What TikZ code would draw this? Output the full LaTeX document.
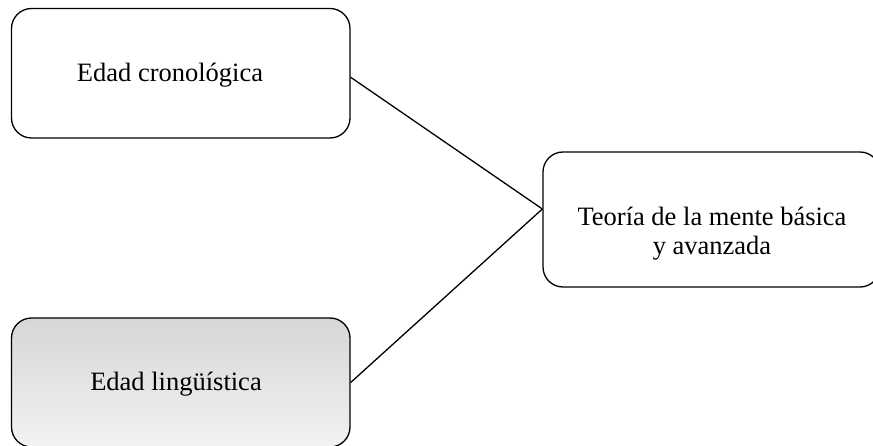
\documentclass[tikz,border=0pt]{standalone}
\usepackage{fontspec}
\setmainfont{Liberation Serif}
\begin{document}
\begin{tikzpicture}[x=1pt,y=-1pt,
  box/.style={draw=black, line width=1.3pt, rounded corners=20pt, rectangle, inner sep=0pt},
  lbl/.style={font=\fontsize{26.5}{29.5}\selectfont, anchor=base, inner sep=0pt, align=center},
  link/.style={draw=black, line width=1.3pt}]
\useasboundingbox (0,0) rectangle (873,446);
\clip (0,0) rectangle (873,446);
\node[box, minimum width=338.5pt, minimum height=129.5pt] (a) at (180.75,73.25) {};
\node[box, minimum width=338.5pt, minimum height=129pt, top color=black!16, bottom color=black!5] (b) at (180.75,382.5) {};
\node[box, minimum width=337pt, minimum height=135pt] (c) at (711.5,219.5) {};
\node[lbl] (ta) at (170,82) {Edad cronológica};
\node[lbl] (tb) at (176,390) {Edad lingüística};
\node[lbl] (tc) at (712,255) {Teoría de la mente básica\\y avanzada};
\draw[link] ([yshift=-4pt]a.east) -- ([yshift=10.5pt]c.west);
\draw[link] (b.east) -- ([yshift=10.5pt]c.west);
\end{tikzpicture}
\end{document}
